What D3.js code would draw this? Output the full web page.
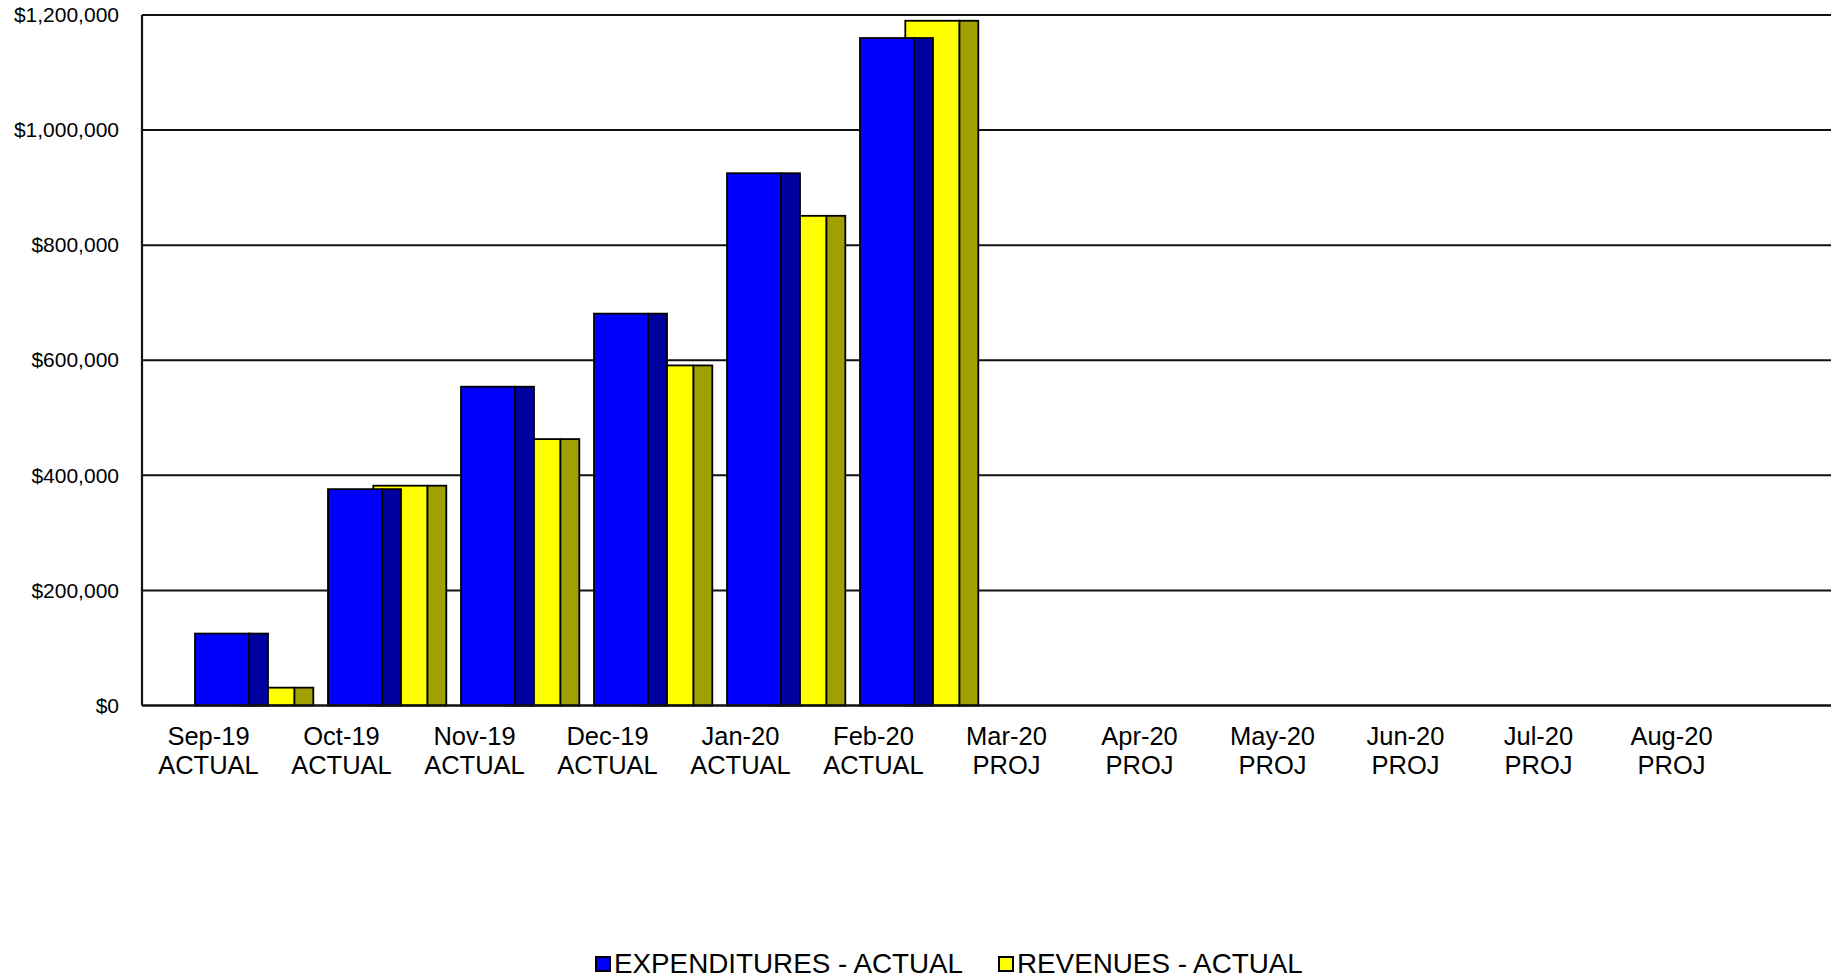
<!DOCTYPE html>
<html>
<head>
<meta charset="utf-8">
<script src="https://cdn.jsdelivr.net/npm/d3@7"></script>
<style>
  body { margin: 0; background: #fff; }
  text { font-family: "Liberation Sans", Arial, sans-serif; fill: #000; }
</style>
</head>
<body>
<div id="chart"></div>
<script>
// ******* data ******* //
var months = ["Sep-19", "Oct-19", "Nov-19", "Dec-19", "Jan-20", "Feb-20",
              "Mar-20", "Apr-20", "May-20", "Jun-20", "Jul-20", "Aug-20"];
var monthStatus = ["ACTUAL", "ACTUAL", "ACTUAL", "ACTUAL", "ACTUAL", "ACTUAL",
                   "PROJ", "PROJ", "PROJ", "PROJ", "PROJ", "PROJ"];
var seriesNames = ["EXPENDITURES - ACTUAL", "REVENUES - ACTUAL"];
var expenditures = [125000, 376000, 554000, 681000, 925000, 1160000,
                    null, null, null, null, null, null];
var revenues = [31000, 382000, 463000, 591000, 851000, 1190000,
                null, null, null, null, null, null];
var yTicks = [0, 200000, 400000, 600000, 800000, 1000000, 1200000];

var frontColors = ["#0000ff", "#ffff00"],
    sideColors = ["#0000a0", "#a0a000"];

var width = 1839,
    height = 979;

var plotLeft = 142, plotRight = 1831, plotTop = 15, plotBottom = 705.5;
var frontW = 54, sideW = 19;

var svg = d3.select("#chart")
    .append("svg")
    .attr("width", width)
    .attr("height", height);

var x = d3.scaleBand().domain(months).range([plotLeft, plotLeft + 12 * 133]);
// series offset inside a month: the second bar sits partly behind the first
var xs = d3.scaleBand().domain(seriesNames).range([0, 90.6]);
var y = d3.scaleLinear().domain([0, 1200000]).range([plotBottom, plotTop]);

// ******* grid lines ******* //
svg.append("g")
    .attr("class", "grid")
    .selectAll("line")
    .data(yTicks.slice(1))
    .enter().append("line")
    .attr("x1", plotLeft)
    .attr("x2", plotRight)
    .attr("y1", function(d) { return y(d); })
    .attr("y2", function(d) { return y(d); })
    .attr("stroke", "#111")
    .attr("stroke-width", 2);

// ******* bars ******* //
var table = months.map(function(m, i) {
    return { month: m, values: [expenditures[i], revenues[i]] };
});

var groups = svg.append("g")
    .attr("class", "bars")
    .selectAll("g")
    .data(table)
    .enter().append("g")
    .attr("transform", function(d) { return "translate(" + (x(d.month) + 53) + ",0)"; });

// revenues drawn first so expenditures stand in front
var bars = groups.selectAll("g")
    .data(function(d) {
        return d.values.map(function(v, j) { return { name: seriesNames[j], value: v, j: j }; })
            .filter(function(e) { return e.value != null; })
            .reverse();
    })
    .enter().append("g");

bars.append("rect")
    .attr("x", function(d) { return xs(d.name) + frontW; })
    .attr("width", sideW)
    .attr("y", function(d) { return y(d.value); })
    .attr("height", function(d) { return y(0) - y(d.value); })
    .attr("fill", function(d) { return sideColors[d.j]; })
    .attr("stroke", "#000")
    .attr("stroke-width", 1.8);

bars.append("rect")
    .attr("x", function(d) { return xs(d.name); })
    .attr("width", frontW)
    .attr("y", function(d) { return y(d.value); })
    .attr("height", function(d) { return y(0) - y(d.value); })
    .attr("fill", function(d) { return frontColors[d.j]; })
    .attr("stroke", "#000")
    .attr("stroke-width", 1.8);

// ******* axes ******* //
svg.append("line")
    .attr("x1", plotLeft).attr("x2", plotLeft)
    .attr("y1", plotTop).attr("y2", plotBottom)
    .attr("stroke", "#111").attr("stroke-width", 2.2);
svg.append("line")
    .attr("x1", plotLeft).attr("x2", plotRight)
    .attr("y1", plotBottom).attr("y2", plotBottom)
    .attr("stroke", "#111").attr("stroke-width", 2.4);

var yAxis = svg.append("g")
    .attr("transform", "translate(" + plotLeft + ",0)")
    .call(d3.axisLeft(y).tickValues(yTicks).tickSize(0).tickPadding(23).tickFormat(d3.format("$,.0f")));
yAxis.select(".domain").remove();
yAxis.selectAll("text")
    .attr("font-family", "Liberation Sans, Arial, sans-serif")
    .attr("font-size", 21)
    .attr("fill", "#000");

var xLabels = svg.append("g")
    .attr("class", "x-labels")
    .selectAll("text")
    .data(months)
    .enter().append("text")
    .attr("text-anchor", "middle")
    .attr("font-size", 25.5);
xLabels.append("tspan")
    .attr("x", function(d) { return x(d) + x.bandwidth() / 2; })
    .attr("y", 745)
    .text(function(d) { return d; });
xLabels.append("tspan")
    .attr("x", function(d) { return x(d) + x.bandwidth() / 2; })
    .attr("y", 774)
    .text(function(d, i) { return monthStatus[i]; });

// ******* legend ******* //
var legendX = [595, 998];
var legend = svg.append("g")
    .attr("class", "legend")
    .selectAll("g")
    .data(seriesNames)
    .enter().append("g")
    .attr("transform", function(d, i) { return "translate(" + legendX[i] + ",0)"; });

legend.append("rect")
    .attr("x", 1).attr("y", 957)
    .attr("width", 14).attr("height", 14)
    .attr("fill", function(d, i) { return frontColors[i]; })
    .attr("stroke", "#000")
    .attr("stroke-width", 2);

legend.append("text")
    .attr("x", 19)
    .attr("y", 973)
    .attr("font-size", 27.8)
    .text(function(d) { return d; });
</script>
</body>
</html>
